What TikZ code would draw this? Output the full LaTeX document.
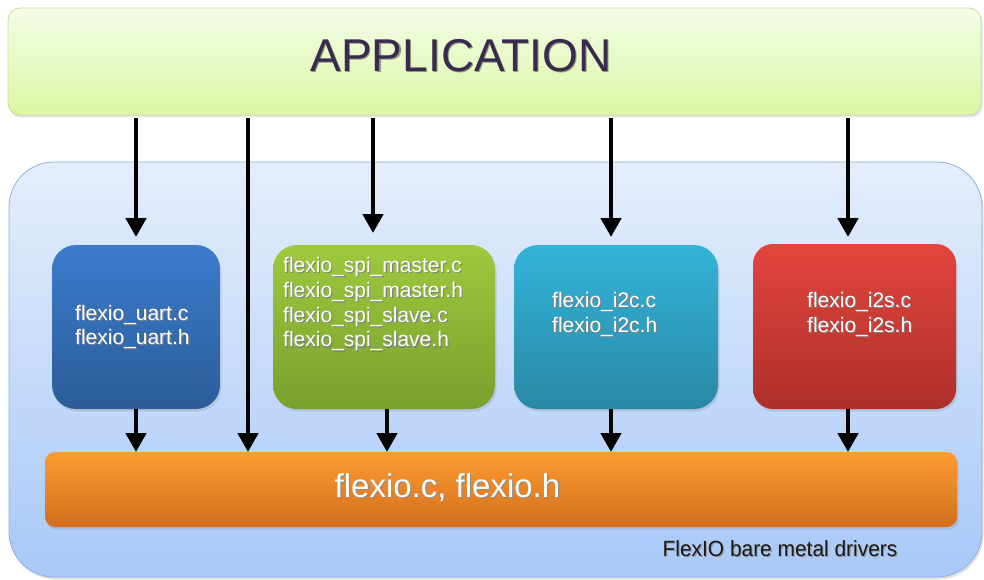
\documentclass[tikz,border=0pt]{standalone}
\usepackage{fontspec}
\setmainfont{Liberation Sans}
\usetikzlibrary{arrows.meta,shadows}
\definecolor{appT}{HTML}{F4FDE7}
\definecolor{appB}{HTML}{DBF6A4}
\definecolor{appD}{HTML}{C8DCA2}
\definecolor{appText}{HTML}{3B2A4F}
\definecolor{conT}{HTML}{E4EEFC}
\definecolor{conB}{HTML}{A8C8F8}
\definecolor{conD}{HTML}{8DB0DE}
\definecolor{uaT}{HTML}{3A7CCC}
\definecolor{uaB}{HTML}{2C5C99}
\definecolor{spT}{HTML}{9FC93D}
\definecolor{spB}{HTML}{78A02D}
\definecolor{icT}{HTML}{33B4D9}
\definecolor{icB}{HTML}{2988A4}
\definecolor{isT}{HTML}{E2453D}
\definecolor{isB}{HTML}{AE2F2A}
\definecolor{orT}{HTML}{FE9B31}
\definecolor{orB}{HTML}{D26E1D}
\newcommand{\tsh}[2][black!50]{\rlap{\kern1.1pt\raisebox{-1.1pt}{\textcolor{#1}{#2}}}#2}
\begin{document}
\begin{tikzpicture}[x=1pt,y=-1pt,
  shbox/.style={inner sep=0pt, outer sep=0pt,
    drop shadow={shadow xshift=1.5pt,shadow yshift=-2.5pt,opacity=0.22}},
  filebox/.style={shbox, rounded corners=24pt, minimum height=164pt},
  ftxt/.style={inner sep=0pt, anchor=west, align=left, text=white,
    font=\fontsize{21}{24.7}\selectfont},
  arr/.style={line width=4.6pt, -{Triangle[width=20pt,length=19pt]}},
  toparr/.style={arr, shorten <=3pt, shorten >=8pt}
]
\useasboundingbox (0,0) rectangle (984,580);
% application
\node[shbox, rounded corners=12pt, draw=appD, line width=0.8pt,
  top color=appT, bottom color=appB,
  minimum width=973pt, minimum height=107pt] (app) at (494.5,61.5) {};
\node[inner sep=0pt, text=appText, font=\fontsize{46}{50}\selectfont] (apptxt) at (461,56.5) {\tsh[appText!45!appB]{APPLICATION}};
% container
\node[shbox, rounded corners=45pt, draw=conD, line width=0.8pt,
  top color=conT, bottom color=conB,
  minimum width=973pt, minimum height=415pt] (con) at (495.5,369.5) {};
% file boxes
\node[filebox, top color=uaT, bottom color=uaB, minimum width=168pt] (uart) at (136,327) {};
\node[filebox, top color=spT, bottom color=spB, minimum width=222pt] (spi) at (384,327) {};
\node[filebox, top color=icT, bottom color=icB, minimum width=204pt] (i2c) at (616,327) {};
\node[filebox, rounded corners=20pt, top color=isT, bottom color=isB, minimum width=203pt, minimum height=165pt] (i2s) at (854.5,326.5) {};
% orange bar
\node[shbox, rounded corners=10pt, top color=orT, bottom color=orB,
  minimum width=912pt, minimum height=75pt] (core) at (501,489.5) {};
% texts
\node[ftxt] (uarttxt) at (75,327.5) {\tsh{flexio\_uart.c}\\\tsh{flexio\_uart.h}};
\node[ftxt] (spitxt) at (283,305) {\tsh{flexio\_spi\_master.c}\\\tsh{flexio\_spi\_master.h}\\\tsh{flexio\_spi\_slave.c}\\\tsh{flexio\_spi\_slave.h}};
\node[ftxt] (i2ctxt) at (552,315) {\tsh{flexio\_i2c.c}\\\tsh{flexio\_i2c.h}};
\node[ftxt] (i2stxt) at (807,315) {\tsh{flexio\_i2s.c}\\\tsh{flexio\_i2s.h}};
\node[inner sep=0pt, text=white, font=\fontsize{33}{36}\selectfont] (coretxt) at (447.5,488) {\tsh[black!45]{flexio.c, flexio.h}};
\node[inner sep=0pt, text=black!90, font=\fontsize{22}{24}\selectfont] (foot) at (780,549) {\scalebox{0.95}[1]{\tsh[black!40]{FlexIO bare metal drivers}}};
% arrow columns
\coordinate (c1) at (136,0);
\coordinate (c2) at (248,0);
\coordinate (c3) at (373,0);
\coordinate (c3b) at (387,0);
\coordinate (c4) at (611,0);
\coordinate (c5) at (848,0);
% top arrows
\draw[toparr] (app.south -| c1) -- (uart.north -| c1);
\draw[arr, shorten <=3pt] (app.south -| c2) -- (core.north -| c2);
\draw[toparr, shorten >=12pt] (app.south -| c3) -- (spi.north -| c3);
\draw[toparr] (app.south -| c4) -- (i2c.north -| c4);
\draw[toparr, shorten >=7pt] (app.south -| c5) -- (i2s.north -| c5);
% bottom arrows
\draw[arr] (uart.south -| c1) -- (core.north -| c1);
\draw[arr] (spi.south -| c3b) -- (core.north -| c3b);
\draw[arr] (i2c.south -| c4) -- (core.north -| c4);
\draw[arr] (i2s.south -| c5) -- (core.north -| c5);
\end{tikzpicture}
\end{document}
